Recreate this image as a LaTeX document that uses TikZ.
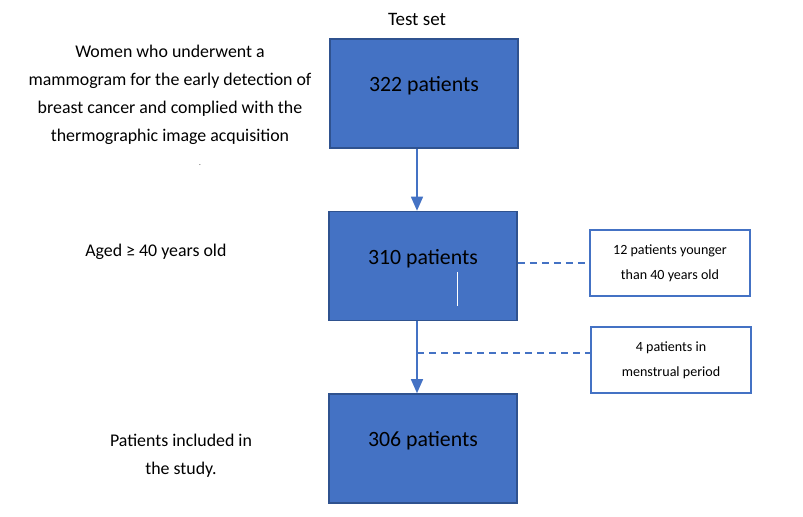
\documentclass[tikz,border=0pt]{standalone}
\usepackage[svgnames]{xcolor}
\usepackage{fontspec}
\setmainfont{Carlito}
\usepackage{tikz}
\usetikzlibrary{arrows.meta}
\definecolor{officeblue}{HTML}{4472C4}
\definecolor{officeedge}{HTML}{2F528F}

\begin{document}
\begin{tikzpicture}[x=0.025cm,y=-0.025cm,
		stage/.style={rectangle,draw=officeedge,line width=1.1pt,fill=officeblue,minimum width=4.7cm,minimum height=2.725cm,inner ysep=0pt,text height=1.325cm,text depth=1.4cm,font=\fontsize{15.5}{18}\selectfont},
		excluded/.style={rectangle,draw=officeblue,line width=1.1pt,fill=white,minimum width=4cm,minimum height=1.65cm,align=center,font=\fontsize{10}{17.5}\selectfont},
		criterion/.style={inner sep=0pt,align=center,font=\fontsize{12.7}{20}\selectfont},
		arr/.style={-{Triangle[length=0.35cm,width=0.3cm]},draw=officeblue,line width=1pt},
		excl/.style={draw=officeblue,line width=0.9pt,dash pattern=on 0.175cm off 0.125cm}]
		\useasboundingbox (0,0) rectangle (803,517);

		\node (title)[font=\fontsize{13.5}{16}\selectfont] at (417,19) {Test set};

		% main column
		\node (box1)[stage] at (424,93.5) {322 patients};
		\node (box2)[stage] at (423,266) {310 patients};
		\node (box3)[stage] at (423,448.5) {306 patients};
		\draw[white,line width=0.7pt] (457,272) -- (457,306);

		% exclusions
		\node (side1)[excluded] at (670,263) {12 patients younger\\than 40 years old};
		\node (side2)[excluded] at (671,360) {4 patients in\\menstrual period};

		\draw[arr] (box1.south -| title) -- (box2.north -| title);
		\draw[arr] (box2.south -| title) -- coordinate[pos=0.442] (split) (box3.north -| title);
		\draw[excl] (side1.west -| box2.east) -- (side1.west);
		\draw[excl] (split) -- (split -| side2.west);

		% left column
		\node (women)[criterion] at (170,95) {Women who underwent a\\mammogram for the early detection of\\breast cancer and complied with the\\thermographic image acquisition};
		\node (dot)[inner sep=0pt,font=\tiny,anchor=base] at (200,166) {.};
		\node (aged)[criterion,anchor=west] at (85,252) {Aged ≥ 40 years old};
		\node (included)[criterion] at (181,456) {Patients included in\\the study.};
	\end{tikzpicture}
\end{document}
